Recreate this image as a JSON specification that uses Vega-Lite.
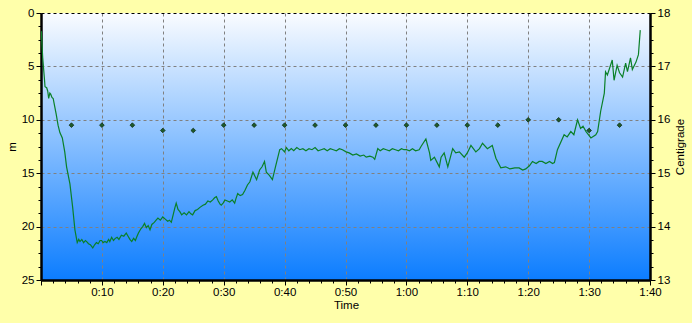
{
  "$schema": "https://vega.github.io/schema/vega-lite/v6.json",
  "width": 609,
  "height": 267,
  "autosize": "none",
  "padding": {"left": 41, "top": 13, "right": 42, "bottom": 43},
  "background": "#FFFFAA",
  "config": {
    "view": {
      "stroke": null,
      "fill": {"gradient": "linear", "x1": 0, "y1": 0, "x2": 0, "y2": 1,
        "stops": [{"offset": 0, "color": "#FAFCFF"}, {"offset": 1, "color": "#0C7DFF"}]}
    },
    "axis": {
      "labelFont": "Liberation Sans", "labelFontSize": 11.5, "labelColor": "#000",
      "titleFont": "Liberation Sans", "titleFontSize": 11.5, "titleFontWeight": "normal", "titleColor": "#000",
      "domainColor": "#000", "domainWidth": 2.5, "tickColor": "#000", "tickWidth": 1,
      "gridColor": "#808080", "gridDash": [3, 3], "gridWidth": 1
    }
  },
  "encoding": {
    "x": {
      "field": "t", "type": "quantitative",
      "scale": {"domain": [0, 100], "nice": false, "zero": false},
      "axis": {
        "title": "Time", "titleX": 305, "titleY": 25, "titleAlign": "center", "titleBaseline": "middle",
        "values": [0,2,4,6,8,10,12,14,16,18,20,22,24,26,28,30,32,34,36,38,40,42,44,46,48,50,52,54,56,58,60,62,64,66,68,70,72,74,76,78,80,82,84,86,88,90,92,94,96,98,100],
        "labelExpr": "datum.value % 10 === 0 && datum.value > 0 ? floor(datum.value/60) + ':' + (datum.value % 60 < 10 ? '0' : '') + (datum.value % 60) : ''",
        "tickSize": {"condition": {"test": "datum.value % 10 === 0", "value": 5}, "value": 3},
        "gridOpacity": {"condition": {"test": "datum.value % 10 === 0", "value": 1}, "value": 0},
        "labelPadding": 1, "labelFlush": false, "labelOverlap": false
      }
    }
  },
  "layer": [
    {
      "data": {"values": [
        {"t":0.05,"d":1.7},{"t":0.28,"d":4.2},{"t":0.54,"d":6.0},{"t":0.66,"d":6.9},{"t":0.93,"d":7.0},{"t":1.1,"d":7.3},{"t":1.26,"d":8.0},{"t":1.45,"d":7.5},{"t":1.59,"d":7.6},{"t":1.8,"d":7.9},{"t":2.0,"d":8.0},{"t":2.2,"d":8.6},{"t":2.5,"d":9.5},{"t":2.8,"d":10.5},{"t":3.1,"d":11.2},{"t":3.5,"d":11.7},{"t":3.9,"d":13.0},{"t":4.2,"d":14.4},{"t":4.75,"d":16.0},{"t":5.2,"d":18.2},{"t":5.57,"d":20.3},{"t":5.95,"d":21.5},{"t":6.2,"d":21.2},{"t":6.4,"d":21.4},{"t":6.7,"d":21.2},{"t":7.0,"d":21.5},{"t":7.3,"d":21.3},{"t":7.5,"d":21.4},{"t":7.8,"d":21.6},{"t":8.1,"d":21.7},{"t":8.5,"d":22.0},{"t":8.8,"d":21.7},{"t":9.1,"d":21.5},{"t":9.4,"d":21.6},{"t":9.7,"d":21.3},{"t":9.95,"d":21.3},{"t":10.2,"d":21.5},{"t":10.5,"d":21.4},{"t":10.8,"d":21.5},{"t":11.1,"d":21.2},{"t":11.3,"d":21.4},{"t":11.6,"d":21.0},{"t":11.9,"d":21.3},{"t":12.2,"d":21.1},{"t":12.5,"d":21.0},{"t":12.8,"d":21.2},{"t":13.2,"d":20.8},{"t":13.6,"d":20.9},{"t":14.0,"d":20.6},{"t":14.3,"d":20.9},{"t":14.6,"d":21.2},{"t":14.9,"d":21.4},{"t":15.2,"d":21.1},{"t":15.5,"d":21.3},{"t":15.7,"d":21.0},{"t":16.0,"d":20.6},{"t":16.4,"d":20.2},{"t":16.7,"d":20.0},{"t":17.0,"d":19.7},{"t":17.3,"d":20.1},{"t":17.6,"d":19.9},{"t":17.9,"d":20.3},{"t":18.2,"d":19.8},{"t":18.6,"d":19.6},{"t":18.9,"d":19.4},{"t":19.2,"d":19.2},{"t":19.6,"d":19.4},{"t":20.0,"d":19.1},{"t":20.4,"d":19.3},{"t":20.8,"d":19.5},{"t":21.1,"d":19.4},{"t":21.4,"d":19.6},{"t":21.7,"d":18.9},{"t":22.0,"d":18.2},{"t":22.2,"d":17.8},{"t":22.5,"d":18.4},{"t":22.8,"d":18.6},{"t":23.1,"d":18.9},{"t":23.5,"d":18.7},{"t":23.9,"d":18.9},{"t":24.3,"d":18.6},{"t":24.6,"d":18.8},{"t":24.9,"d":18.9},{"t":25.3,"d":18.5},{"t":25.7,"d":18.4},{"t":26.1,"d":18.2},{"t":26.6,"d":18.0},{"t":27.0,"d":17.9},{"t":27.4,"d":17.6},{"t":27.8,"d":17.7},{"t":28.2,"d":17.5},{"t":28.5,"d":17.3},{"t":28.8,"d":17.2},{"t":29.1,"d":17.6},{"t":29.4,"d":17.9},{"t":29.6,"d":18.0},{"t":29.9,"d":17.8},{"t":30.2,"d":17.5},{"t":30.6,"d":17.6},{"t":31.0,"d":17.7},{"t":31.4,"d":17.5},{"t":31.8,"d":17.8},{"t":32.0,"d":17.4},{"t":32.3,"d":16.9},{"t":32.7,"d":17.1},{"t":33.1,"d":17.0},{"t":33.5,"d":16.6},{"t":33.9,"d":16.1},{"t":34.3,"d":15.8},{"t":34.8,"d":14.9},{"t":35.4,"d":15.6},{"t":35.9,"d":14.7},{"t":36.3,"d":14.4},{"t":36.7,"d":13.9},{"t":37.0,"d":14.9},{"t":37.5,"d":15.2},{"t":38.0,"d":15.6},{"t":38.5,"d":14.4},{"t":39.2,"d":12.8},{"t":39.5,"d":12.7},{"t":40.0,"d":13.0},{"t":40.3,"d":12.6},{"t":40.7,"d":12.9},{"t":41.1,"d":12.7},{"t":41.5,"d":12.9},{"t":42.0,"d":12.6},{"t":42.5,"d":12.8},{"t":43.0,"d":12.7},{"t":43.5,"d":12.9},{"t":44.0,"d":12.7},{"t":44.5,"d":12.8},{"t":45.0,"d":12.6},{"t":45.5,"d":12.9},{"t":46.0,"d":12.8},{"t":46.5,"d":12.7},{"t":47.0,"d":12.9},{"t":47.5,"d":12.7},{"t":48.0,"d":12.8},{"t":48.5,"d":12.9},{"t":49.0,"d":12.7},{"t":49.5,"d":12.8},{"t":50.1,"d":13.0},{"t":50.6,"d":13.1},{"t":51.2,"d":13.3},{"t":51.8,"d":13.2},{"t":52.4,"d":13.4},{"t":53.0,"d":13.3},{"t":53.4,"d":13.5},{"t":54.0,"d":13.4},{"t":54.5,"d":13.5},{"t":54.8,"d":13.7},{"t":55.3,"d":12.7},{"t":55.7,"d":12.9},{"t":56.2,"d":12.7},{"t":56.7,"d":12.8},{"t":57.2,"d":12.9},{"t":57.7,"d":12.7},{"t":58.2,"d":12.8},{"t":58.7,"d":12.9},{"t":59.2,"d":12.7},{"t":59.6,"d":12.8},{"t":60.0,"d":12.8},{"t":60.5,"d":12.9},{"t":61.0,"d":12.7},{"t":61.5,"d":12.9},{"t":62.1,"d":12.8},{"t":62.4,"d":12.5},{"t":63.2,"d":11.8},{"t":63.8,"d":13.1},{"t":64.0,"d":13.8},{"t":64.6,"d":13.5},{"t":65.4,"d":14.4},{"t":65.7,"d":13.5},{"t":66.2,"d":13.1},{"t":66.8,"d":14.4},{"t":67.6,"d":12.7},{"t":68.1,"d":13.1},{"t":68.7,"d":13.0},{"t":69.5,"d":13.5},{"t":70.0,"d":13.1},{"t":70.6,"d":12.4},{"t":71.4,"d":13.0},{"t":72.0,"d":12.7},{"t":72.5,"d":12.2},{"t":73.3,"d":12.7},{"t":74.1,"d":12.4},{"t":74.7,"d":13.6},{"t":75.5,"d":14.5},{"t":76.3,"d":14.4},{"t":77.0,"d":14.6},{"t":77.8,"d":14.5},{"t":78.5,"d":14.5},{"t":79.1,"d":14.7},{"t":79.6,"d":14.6},{"t":80.2,"d":14.3},{"t":80.7,"d":13.9},{"t":81.3,"d":14.1},{"t":81.8,"d":13.9},{"t":82.3,"d":13.9},{"t":82.9,"d":14.1},{"t":83.5,"d":13.9},{"t":84.0,"d":14.1},{"t":84.3,"d":14.0},{"t":84.8,"d":12.8},{"t":85.9,"d":11.4},{"t":86.4,"d":11.6},{"t":87.0,"d":11.1},{"t":87.5,"d":11.4},{"t":88.1,"d":10.0},{"t":88.6,"d":10.8},{"t":89.0,"d":10.6},{"t":89.5,"d":11.1},{"t":90.3,"d":11.7},{"t":91.1,"d":11.4},{"t":91.4,"d":11.1},{"t":91.9,"d":9.2},{"t":92.5,"d":7.5},{"t":92.7,"d":5.5},{"t":93.0,"d":5.8},{"t":93.4,"d":5.1},{"t":93.8,"d":4.4},{"t":94.1,"d":6.3},{"t":94.6,"d":4.9},{"t":95.0,"d":5.6},{"t":95.5,"d":6.0},{"t":96.0,"d":4.7},{"t":96.3,"d":5.5},{"t":96.8,"d":4.2},{"t":97.1,"d":5.3},{"t":97.7,"d":4.6},{"t":98.1,"d":3.9},{"t":98.4,"d":1.6}
      ]},
      "mark": {"type": "line", "color": "#0A8028", "strokeWidth": 1.2, "clip": true},
      "encoding": {
        "y": {
          "field": "d", "type": "quantitative",
          "scale": {"domain": [0, 25], "reverse": true, "nice": false, "zero": false},
          "axis": {
            "orient": "left", "title": "m", "titleAngle": -90, "titleX": -29, "titleY": 133.5,
            "titleAlign": "center", "titleBaseline": "middle",
            "values": [0,1.25,2.5,3.75,5,6.25,7.5,8.75,10,11.25,12.5,13.75,15,16.25,17.5,18.75,20,21.25,22.5,23.75,25],
            "labelExpr": "datum.value % 5 === 0 ? format(datum.value, 'd') : ''",
            "tickSize": {"condition": {"test": "datum.value % 5 === 0", "value": 5}, "value": 3},
            "gridOpacity": {"condition": {"test": "datum.value % 5 === 0", "value": 1}, "value": 0},
            "gridColor": {"condition": {"test": "datum.value === 0", "value": "#000"}, "value": "#808080"},
            "labelPadding": 2, "labelFlush": false, "labelOverlap": false
          }
        }
      }
    },
    {
      "data": {"values": [
        {"t":5,"c":15.9},{"t":10,"c":15.9},{"t":15,"c":15.9},{"t":20,"c":15.8},{"t":25,"c":15.8},{"t":30,"c":15.9},{"t":35,"c":15.9},{"t":40,"c":15.9},{"t":45,"c":15.9},{"t":50,"c":15.9},{"t":55,"c":15.9},{"t":60,"c":15.9},{"t":65,"c":15.9},{"t":70,"c":15.9},{"t":75,"c":15.9},{"t":80,"c":16.0},{"t":85,"c":16.0},{"t":90,"c":15.8},{"t":95,"c":15.9}
      ]},
      "mark": {"type": "point", "shape": "diamond", "filled": true, "size": 22, "color": "#1E5A2A", "stroke": "#0F2F18", "strokeWidth": 0.8, "opacity": 1},
      "encoding": {
        "y": {
          "field": "c", "type": "quantitative",
          "scale": {"domain": [13, 18], "nice": false, "zero": false},
          "axis": {
            "orient": "right", "title": "Centigrade", "titleAngle": -90, "titleX": 30, "titleY": 133.5,
            "titleAlign": "center", "titleBaseline": "middle",
            "values": [13,13.25,13.5,13.75,14,14.25,14.5,14.75,15,15.25,15.5,15.75,16,16.25,16.5,16.75,17,17.25,17.5,17.75,18],
            "labelExpr": "datum.value % 1 === 0 ? format(datum.value, 'd') : ''",
            "tickSize": {"condition": {"test": "datum.value % 1 === 0", "value": 5}, "value": 3},
            "grid": false, "labelPadding": 2, "labelFlush": false, "labelOverlap": false
          }
        }
      }
    }
  ],
  "resolve": {"scale": {"y": "independent"}}
}
